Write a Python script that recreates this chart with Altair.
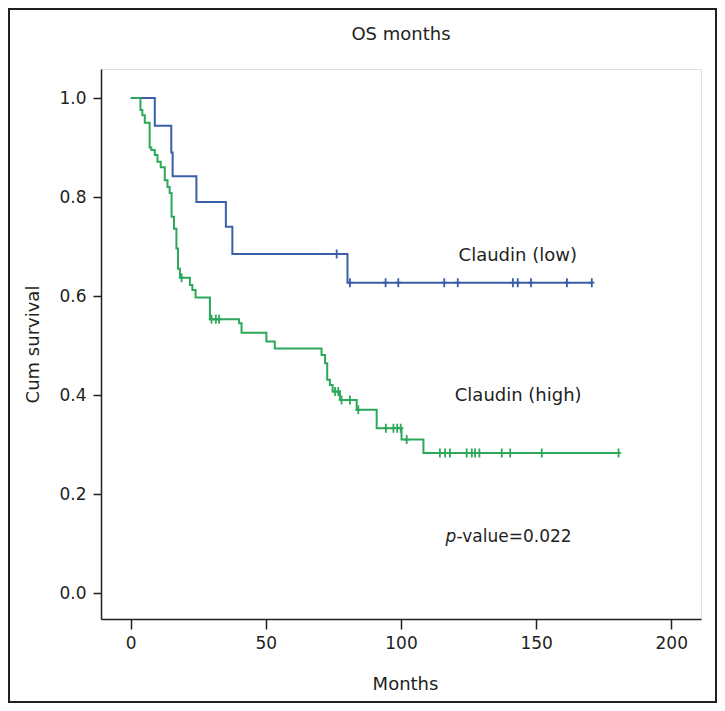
import bisect
import altair as alt
import pandas as pd

# ---- data ----
groups = ["Claudin (low)", "Claudin (high)"]

low_times = [0, 8.9, 15.0, 15.5, 24.3, 35.2, 37.6, 80.2]
low_surv = [1.0, 0.944, 0.89, 0.842, 0.79, 0.74, 0.685, 0.627]
low_end = 170.6
low_censor = [76.2, 81.1, 94.3, 99.0, 116.0, 121.0, 141.4, 143.2, 148.1, 161.4, 170.6]

high_times = [0, 3.6, 4.3, 5.2, 7.0, 7.6, 8.9, 9.9, 11.1, 12.6, 13.6, 14.4, 15.1,
              16.0, 16.9, 17.5, 18.2, 21.9, 22.8, 24.0, 29.3, 40.1, 41.0, 50.2,
              53.3, 70.6, 71.9, 72.7, 73.7, 74.7, 77.4, 83.6, 91.0, 100.2, 108.3]
high_surv = [1.0, 0.976, 0.965, 0.95, 0.90, 0.895, 0.885, 0.871, 0.86, 0.834, 0.82,
             0.808, 0.76, 0.736, 0.696, 0.655, 0.637, 0.622, 0.612, 0.597, 0.553,
             0.545, 0.526, 0.508, 0.494, 0.481, 0.464, 0.431, 0.42, 0.407, 0.39,
             0.37, 0.333, 0.31, 0.283]
high_end = 180.5
high_censor = [18.8, 29.9, 31.5, 32.7, 75.6, 76.8, 78.0, 81.1, 84.2, 94.4, 97.2,
               98.6, 99.9, 102.1, 114.4, 116.3, 118.1, 124.3, 126.2, 127.4, 129.0,
               137.3, 140.4, 152.1, 180.5]

x_ticks = [0, 50, 100, 150, 200]
y_ticks = [0.0, 0.2, 0.4, 0.6, 0.8, 1.0]

chart_title = "OS months"
p_label = "-value=0.022"

BLUE = "#3b5ea8"
GREEN = "#2ca85a"
INK = "#231f20"
FONT = "DejaVu Sans"


def surv_at(ts, ss, t):
    i = bisect.bisect_right(ts, t) - 1
    return ss[i]


line_rows, cens_rows = [], []
for g, ts, ss, end, cens in [
    (groups[0], low_times, low_surv, low_end, low_censor),
    (groups[1], high_times, high_surv, high_end, high_censor),
]:
    for t, s in zip(ts, ss):
        line_rows.append({"group": g, "t": t, "s": s})
    line_rows.append({"group": g, "t": end, "s": ss[-1]})
    for c in cens:
        cens_rows.append({"group": g, "t": c, "s": surv_at(ts, ss, c)})

lines_df = pd.DataFrame(line_rows)
cens_df = pd.DataFrame(cens_rows)

labels_df = pd.DataFrame([
    {"t": 121.3, "s": 0.681, "txt": "Claudin (low)"},
    {"t": 119.9, "s": 0.398, "txt": "Claudin (high)"},
])
p_df = pd.DataFrame([{"t": 116.5, "s": 0.114}])
title_df = pd.DataFrame([{"txt": chart_title}])

xscale = alt.Scale(domain=[-11, 211], nice=False, zero=False)
yscale = alt.Scale(domain=[-0.0525, 1.0586], nice=False, zero=False)
cscale = alt.Scale(domain=groups, range=[BLUE, GREEN])

x_enc = alt.X("t:Q", scale=xscale, axis=alt.Axis(
    values=x_ticks, format="d", grid=False, tickSize=10, tickWidth=1.5,
    tickColor=INK, domainColor=INK, domainWidth=1.5, labelFontSize=17,
    labelFont=FONT, labelColor=INK, labelPadding=6, title="Months",
    titleFont=FONT, titleFontSize=18, titleFontWeight="normal", titleColor=INK,
    titleX=304, titleY=65, titleAlign="center", titleBaseline="middle"))
y_enc = alt.Y("s:Q", scale=yscale, axis=alt.Axis(
    values=y_ticks, format=".1f", grid=False, tickSize=8, tickWidth=1.5,
    tickColor=INK, domainColor=INK, domainWidth=1.5, labelFontSize=17,
    labelFont=FONT, labelColor=INK, labelPadding=7, title="Cum survival",
    titleFont=FONT, titleFontSize=18, titleFontWeight="normal", titleColor=INK,
    titleX=-68, titleY=275, titleAngle=270, titleAlign="center",
    titleBaseline="middle"))

frame = alt.Chart(p_df).mark_rect(filled=False, stroke=INK, strokeWidth=2).encode(
    x=alt.value(-92), x2=alt.value(615), y=alt.value(-60), y2=alt.value(633))

title = alt.Chart(title_df).mark_text(
    align="center", baseline="middle", font=FONT, fontSize=18, color=INK).encode(
    x=alt.value(300), y=alt.value(-34), text="txt:N")

lines = alt.Chart(lines_df).mark_line(interpolate="step-after", strokeWidth=2).encode(
    x=x_enc, y=y_enc,
    color=alt.Color("group:N", scale=cscale, legend=None),
    order="t:Q")

cross = "M-0.6,0H0.6M0,-1V1"
censors = alt.Chart(cens_df).mark_point(
    shape=cross, size=81, filled=False, strokeWidth=1.8, opacity=1).encode(
    x="t:Q", y="s:Q",
    color=alt.Color("group:N", scale=cscale, legend=None))

labels = alt.Chart(labels_df).mark_text(
    align="left", baseline="middle", font=FONT, fontSize=18, color=INK).encode(
    x="t:Q", y="s:Q", text="txt:N")

p_italic = alt.Chart(p_df).mark_text(
    align="left", baseline="middle", font=FONT, fontSize=17, fontStyle="italic",
    color=INK, text="p").encode(x="t:Q", y="s:Q")
p_rest = alt.Chart(p_df).mark_text(
    align="left", baseline="middle", font=FONT, fontSize=17, color=INK,
    text=p_label, dx=11).encode(x="t:Q", y="s:Q")

chart = alt.layer(frame, title, lines, censors, labels, p_italic, p_rest).properties(
    width=600, height=550,
    autosize=alt.AutoSizeParams(type="none"),
    padding={"left": 93, "top": 61, "right": 16, "bottom": 84},
).configure_view(stroke=None).configure(background="white")

chart.save("out.html", embed_options={"renderer": "svg", "actions": False})
